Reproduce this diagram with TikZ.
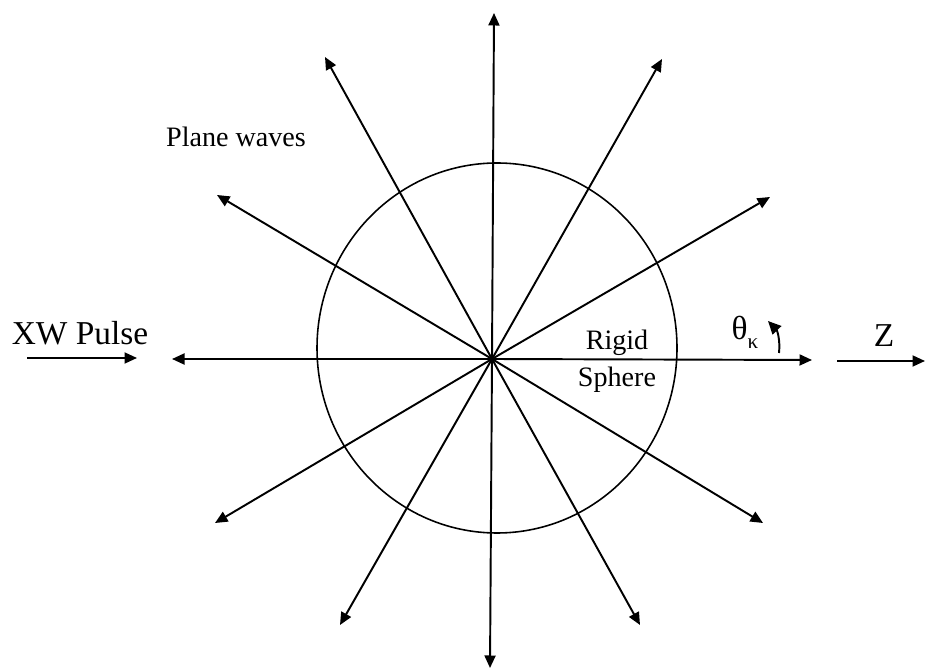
\documentclass[tikz,border=0pt]{standalone}
\usepackage{fontspec}
\setmainfont{Liberation Serif}
\usetikzlibrary{arrows.meta}
\tikzstyle{wave} = [line width=1.1pt, -{Triangle[length=0.25cm, width=0.22cm]}]
\tikzstyle{txt} = [font=\fontsize{16}{21}\selectfont, align=center, inner sep=0pt]
\tikzstyle{bigtxt} = [font=\fontsize{19}{23}\selectfont, inner sep=0pt]

\begin{document}
\begin{tikzpicture}[x=0.02cm, y=-0.02cm]
  \useasboundingbox (0,0) rectangle (926,671);

  % Sphere
  \coordinate (o) at (492,359);
  \draw[line width=0.9pt] (497,348) ellipse [x radius=180, y radius=185];

  % Plane waves (outgoing directions)
  \foreach \n/\px/\py in {a0/812/360, a30/770/197, a60/662/59, a90/494/13,
      a120/325/57, a150/217/195, a180/172/359, a210/215/523,
      a240/340/625, a270/490/668, a300/640/625, a330/763/523} {
    \coordinate (\n) at (\px,\py);
    \draw[wave] (o) -- (\n);
  }

  % Labels
  \node[txt] (pw) at (236,137) {Plane waves};
  \node[txt] (rs) at (617,361) {Rigid\\Sphere};

  % Incident pulse
  \node[bigtxt, anchor=base] (xw) at (80,345) {XW Pulse};
  \coordinate (xwa) at (27,358);
  \coordinate (xwb) at (137,358);
  \draw[wave] (xwa) -- (xwb);

  % Z axis
  \node[bigtxt, anchor=base] (z) at (884,347) {Z};
  \coordinate (za) at (837,361);
  \coordinate (zb) at (925,361);
  \draw[wave] (za) -- (zb);

  % Angle
  \node[anchor=base, inner sep=0pt, font=\fontsize{19}{20}\selectfont] (th) at (745,340) {θ\raisebox{-0.55ex}{\fontsize{12}{12}\selectfont κ}};
  \coordinate (r1) at (779,353);
  \coordinate (r2) at (768,321);
  \draw[line width=1.1pt, -{Triangle[length=0.26cm, width=0.24cm]}] (r1) to[bend right=25] (r2);
\end{tikzpicture}
\end{document}
